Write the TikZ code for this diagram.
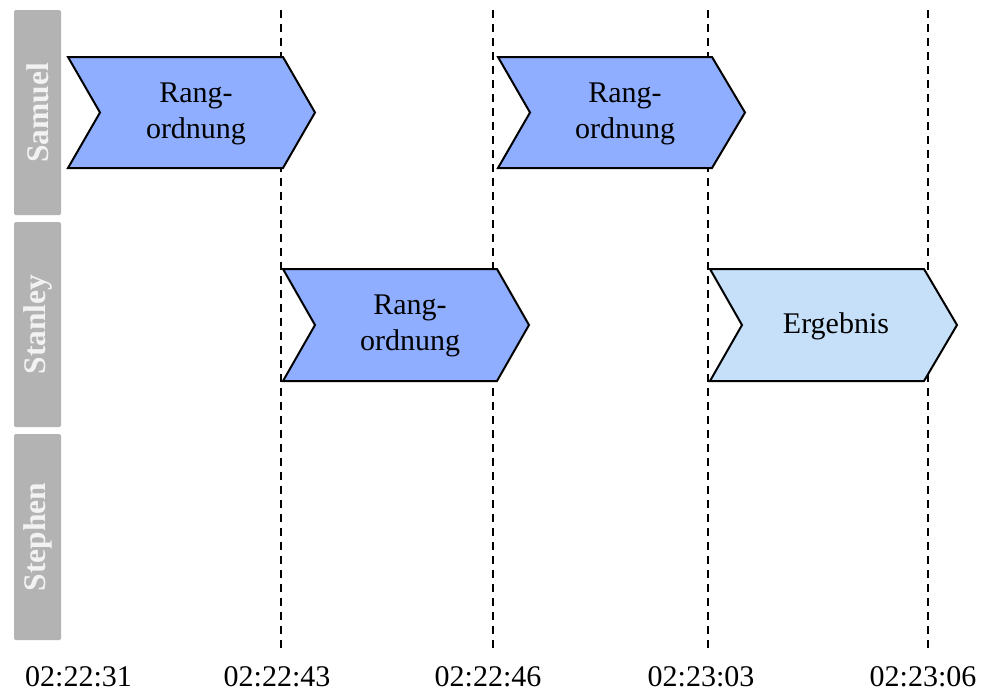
\documentclass[tikz,border=0pt]{standalone}
\usepackage{fontspec}
\setmainfont{Liberation Serif}
\definecolor{lanegray}{HTML}{B3B3B3}
\definecolor{lanetext}{HTML}{F2F2F2}
\definecolor{taskblue}{HTML}{8FAEFF}
\definecolor{resultblue}{HTML}{C6E0FA}
\tikzset{
  lanebar/.style={fill=lanegray, draw=none, rounded corners=1.5pt},
  lanelabel/.style={text=lanetext, font=\fontsize{31.5}{36}\selectfont\bfseries, rotate=90, inner sep=0pt},
  timeline/.style={draw=black, line width=2pt, dash pattern=on 8pt off 6pt},
  chevron/.style={draw=black, line width=2pt, line join=miter},
  tasktext/.style={font=\fontsize{30}{36}\selectfont, align=center, inner sep=0pt},
  timelabel/.style={font=\fontsize{30}{36}\selectfont, inner sep=0pt}
}
\begin{document}
\begin{tikzpicture}[x=1pt,y=-1pt]
\useasboundingbox (0,0) rectangle (981,694);
% lane bars
\fill[lanebar] (14,10) rectangle (61,215);
\fill[lanebar] (14,222) rectangle (61,427);
\fill[lanebar] (14,434) rectangle (61,640);
\node[lanelabel] (samuel) at (37.5,113) {Samuel};
\node[lanelabel] (stanley) at (37.5,324.5) {Stanley};
\node[lanelabel] (stephen) at (37.5,537) {Stephen};
% time lines
\coordinate (t1top) at (281,10); \coordinate (t1bot) at (281,648);
\coordinate (t2top) at (493,10); \coordinate (t2bot) at (493,648);
\coordinate (t3top) at (708,10); \coordinate (t3bot) at (708,648);
\coordinate (t4top) at (928,10); \coordinate (t4bot) at (928,648);
\draw[timeline] (t1top) -- (t1bot);
\draw[timeline] (t2top) -- (t2bot);
\draw[timeline] (t3top) -- (t3bot);
\draw[timeline] (t4top) -- (t4bot);
% chevrons
\filldraw[chevron, fill=taskblue] (68,57) -- (283,57) -- (315,112.5) -- (283,168) -- (68,168) -- (100,112.5) -- cycle;
\node[tasktext] (r1) at (196,114) {Rang-\\ordnung};
\filldraw[chevron, fill=taskblue] (498,57) -- (712,57) -- (745,112.5) -- (712,168) -- (498,168) -- (530,112.5) -- cycle;
\node[tasktext] (r2) at (625,114) {Rang-\\ordnung};
\filldraw[chevron, fill=taskblue] (283,269) -- (497,269) -- (529,325) -- (497,381) -- (283,381) -- (315,325) -- cycle;
\node[tasktext] (r3) at (410,326) {Rang-\\ordnung};
\filldraw[chevron, fill=resultblue] (710,269) -- (924,269) -- (957,325) -- (924,381) -- (710,381) -- (742,325) -- cycle;
\node[tasktext] (e1) at (836,326) {Ergebnis};
% time labels
\node[timelabel] (l0) at (78.5,676.5) {02:22:31};
\node[timelabel] (l1) at (277,676.5) {02:22:43};
\node[timelabel] (l2) at (488,676.5) {02:22:46};
\node[timelabel] (l3) at (701,676.5) {02:23:03};
\node[timelabel] (l4) at (923,676.5) {02:23:06};
\end{tikzpicture}
\end{document}
